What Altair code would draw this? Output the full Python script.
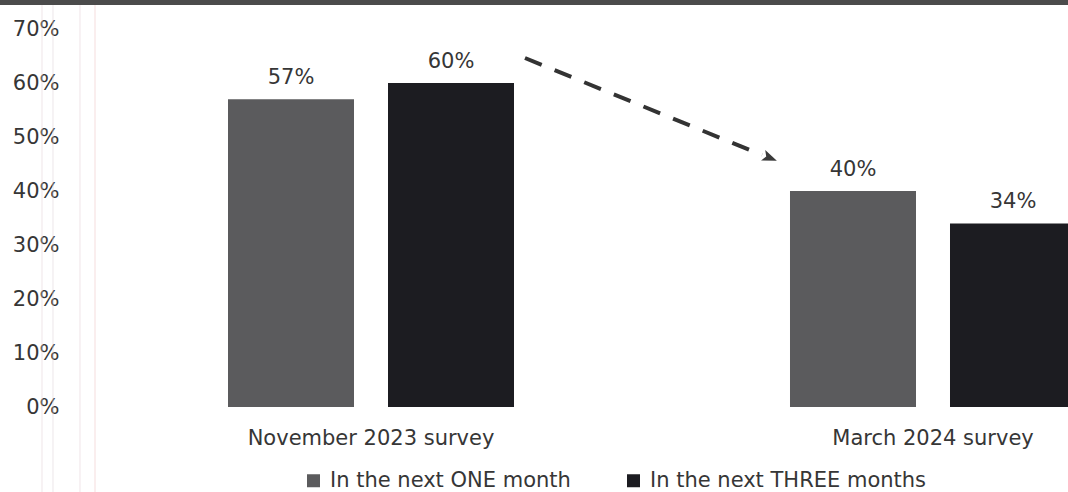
import altair as alt
import pandas as pd

# ---- data ----
surveys = ["November 2023 survey", "November 2023 survey", "March 2024 survey", "March 2024 survey"]
horizons = ["In the next ONE month", "In the next THREE months",
            "In the next ONE month", "In the next THREE months"]
values = [57, 60, 40, 34]
value_labels = ["57%", "60%", "40%", "34%"]
survey_order = ["November 2023 survey", "March 2024 survey"]
horizon_order = ["In the next ONE month", "In the next THREE months"]
y_ticks = [0, 10, 20, 30, 40, 50, 60, 70]

df = pd.DataFrame({"survey": surveys, "horizon": horizons,
                   "value": values, "label": value_labels})
one = pd.DataFrame({"d": [0]})

FONT = "DejaVu Sans"
TXT = "#363636"
COLORS = ["#5b5b5d", "#1c1c21"]
W, H = 1003, 378

x_enc = alt.X("survey:N", sort=survey_order,
              scale=alt.Scale(range=[163, 1011], paddingInner=0.4911, paddingOuter=0),
              axis=alt.Axis(title=None, labelAngle=0, domain=False, ticks=False, grid=False,
                            labelPadding=20, labelFontSize=21, labelFont=FONT,
                            labelColor=TXT, labelLimit=0))
xo_enc = alt.XOffset("horizon:N", sort=horizon_order,
                     scale=alt.Scale(paddingInner=0.2125, paddingOuter=0))
y_enc = alt.Y("value:Q", scale=alt.Scale(domain=[0, 70], nice=False),
              axis=alt.Axis(title=None, values=y_ticks, domain=False, ticks=False,
                            grid=False, labelPadding=6, labelFontSize=21,
                            labelFont=FONT, labelColor=TXT,
                            labelExpr="datum.value + '%'"))
color_enc = alt.Color("horizon:N", sort=horizon_order,
                      scale=alt.Scale(domain=horizon_order, range=COLORS),
                      legend=alt.Legend(title=None, orient="none", direction="horizontal",
                                        legendX=238, legendY=441,
                                        symbolType="square", symbolSize=169,
                                        symbolStrokeWidth=0, labelFontSize=21,
                                        labelFont=FONT, labelColor=TXT, labelLimit=0,
                                        labelOffset=6, columnPadding=52))

bars = alt.Chart(df).mark_bar(clip=True).encode(
    x=x_enc, xOffset=xo_enc, y=y_enc, color=color_enc)

texts = alt.Chart(df).mark_text(baseline="bottom", dy=-11, fontSize=21,
                                font=FONT, color=TXT, clip=True).encode(
    x=x_enc, xOffset=xo_enc, y=y_enc, text="label:N")

arrow_line = alt.Chart(one).mark_rule(strokeDash=[18, 14], strokeWidth=4,
                                      color="#333333", strokeCap="butt").encode(
    x=alt.value(460), y=alt.value(29), x2=alt.value(697), y2=alt.value(126))
arrow_head = alt.Chart(one).mark_point(shape="M-1,-0.75L1,0L-1,0.75L-0.55,0Z",
                                       filled=True, size=220,
                                       angle=22, color="#3a3a3a", opacity=1).encode(
    x=alt.value(705), y=alt.value(129))

top_band = alt.Chart(one).mark_rect(color="#4b4b4b").encode(
    x=alt.value(-65), x2=alt.value(W), y=alt.value(-29), y2=alt.value(-24))

def faint_line(px, col):
    return alt.Chart(one).mark_rule(color=col, strokeWidth=1.2, opacity=0.5).encode(
        x=alt.value(px), y=alt.value(-24), y2=alt.value(H + 85))

decor = [faint_line(-23, "#e6d6da"), faint_line(-12, "#e2d8dc"),
         faint_line(15, "#e8d4da"), faint_line(30, "#efc8c8")]

chart = alt.layer(*decor, top_band, bars, texts, arrow_line, arrow_head).properties(
    width=W, height=H,
    background="white",
    autosize=alt.AutoSizeParams(type="none"),
    padding={"left": 65, "top": 29, "right": 0, "bottom": 85},
).configure_view(stroke=None)

chart.save("out.html", embed_options={"renderer": "svg", "actions": False})
